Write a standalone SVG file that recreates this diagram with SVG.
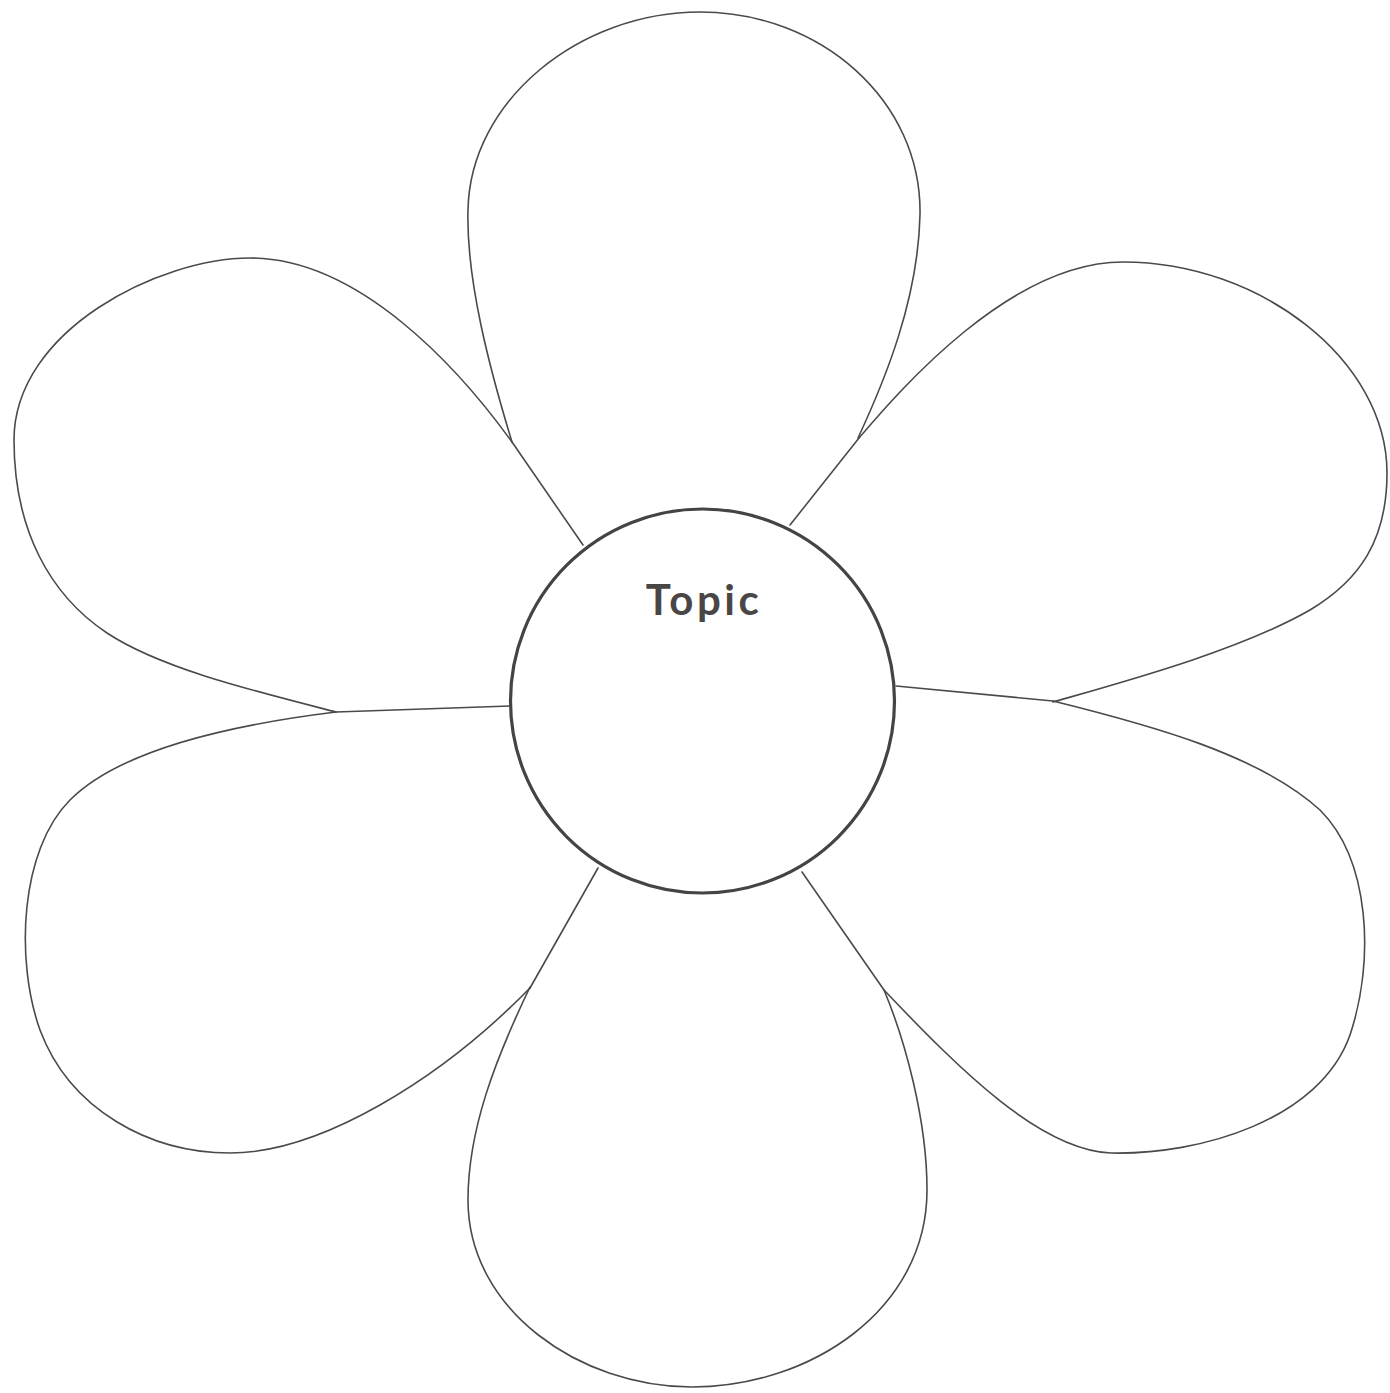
<svg xmlns="http://www.w3.org/2000/svg" width="1390" height="1393" viewBox="0 0 1390 1393">
<style>
.petal{fill:none;stroke:#4a4a4a;stroke-width:1.6;stroke-linecap:round;stroke-linejoin:round}
.stem{fill:none;stroke:#4a4a4a;stroke-width:1.6;stroke-linecap:round}
.center{fill:#fff;stroke:#444;stroke-width:3.2}
.label{font-family:"Lato","Open Sans","Liberation Sans",sans-serif;font-weight:700;font-size:42px;fill:#4a4646;letter-spacing:3.5px}
</style>
<rect width="1390" height="1393" fill="#fff"/>
<g id="petal-top"><path class="petal" d="M512,442 C490,370 466,280 468,210 C470,100 580,12 700,12 C820,12 922,100 920,215 C918,300 885,380 858,438"/></g>
<g id="petal-upper-left"><path class="petal" d="M512,442 C460,370 360,258 250,258 C160,258 14,330 14,440 C14,530 50,595 107,633 C160,668 250,690 336,712"/></g>
<g id="petal-upper-right"><path class="petal" d="M859,438 C900,390 1010,262 1123,262 C1260,262 1387,360 1387,473 C1387,540 1360,580 1310,610 C1240,650 1130,680 1053,702"/></g>
<g id="petal-lower-right"><path class="petal" d="M1053,701 C1150,725 1260,755 1320,810 C1370,860 1375,960 1350,1035 C1320,1120 1200,1155 1111,1153 C1040,1150 960,1070 884,990"/></g>
<g id="petal-bottom"><path class="petal" d="M530,987 C495,1060 468,1130 468,1200 C468,1310 580,1387 692,1387 C810,1387 927,1310 927,1190 C927,1120 905,1040 884,990"/></g>
<g id="petal-lower-left"><path class="petal" d="M336,712 C230,725 120,750 70,800 C20,850 15,960 40,1030 C70,1110 150,1153 230,1153 C320,1153 440,1080 530,988"/></g>
<g id="connectors">
<path class="stem" d="M583,545 L512,442"/>
<path class="stem" d="M790,525 L859,438"/>
<path class="stem" d="M896,686 L1053,701"/>
<path class="stem" d="M802,872 L884,990"/>
<path class="stem" d="M598,868 L530,988"/>
<path class="stem" d="M511,706 L336,712"/>
</g>
<g id="topic">
<circle class="center" cx="702.5" cy="701" r="192"/>
<text class="label" x="704" y="615" text-anchor="middle">Topic</text>
</g>
</svg>
